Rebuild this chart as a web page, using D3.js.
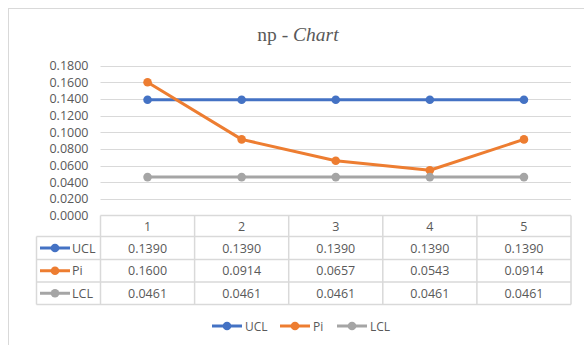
<!DOCTYPE html>
<meta charset="utf-8">
<head>
  <title>np - Chart</title>
</head>

<style>
body {
  margin: 0;
  background: #fff;
}
text {
  font-family: "Open Sans", "Noto Sans", sans-serif;
  fill: #595959;
}
</style>

<body>
  <svg width="584" height="345"></svg>

  <script src="https://cdn.jsdelivr.net/npm/d3@7"></script>

  <script>
var categories = ['1', '2', '3', '4', '5'];
var ucl = [0.1390, 0.1390, 0.1390, 0.1390, 0.1390];
var pi = [0.1600, 0.0914, 0.0657, 0.0543, 0.0914];
var lcl = [0.0461, 0.0461, 0.0461, 0.0461, 0.0461];
var yTicks = [0, 0.02, 0.04, 0.06, 0.08, 0.10, 0.12, 0.14, 0.16, 0.18];

var series = [
  { name: 'UCL', values: ucl, color: '#4472C4' },
  { name: 'Pi', values: pi, color: '#ED7D31' },
  { name: 'LCL', values: lcl, color: '#A5A5A5' }
];

var svg = d3.select('svg');
var gridColor = '#d9d9d9';

// outer chart frame
svg.append('rect')
  .attr('x', 8.5).attr('y', 8.5)
  .attr('width', 600).attr('height', 360)
  .attr('fill', 'none')
  .attr('stroke', '#d9d9d9');

// title
var title = svg.append('text')
  .attr('x', 298).attr('y', 41)
  .attr('text-anchor', 'middle')
  .style('font-family', '"Liberation Serif", "DejaVu Serif", serif')
  .style('font-size', '19.5px');
title.append('tspan').text('np - ');
title.append('tspan').style('font-style', 'italic').text('Chart');

var plotLeft = 100.5, plotRight = 571, plotTop = 65.6, plotBottom = 215.5;

var xScale = d3.scaleBand().domain(categories).range([plotLeft, plotRight]);
var yScale = d3.scaleLinear().domain([0, 0.18]).range([plotBottom, plotTop]);

// gridlines
svg.append('g')
  .selectAll('line')
  .data(yTicks.slice(1))
  .enter()
  .append('line')
  .attr('x1', plotLeft).attr('x2', plotRight)
  .attr('y1', function(d) { return Math.round(yScale(d)) + 0.5; })
  .attr('y2', function(d) { return Math.round(yScale(d)) + 0.5; })
  .attr('stroke', gridColor);

// y axis labels
var yAxis = d3.axisLeft(yScale)
  .tickValues(yTicks)
  .tickFormat(d3.format('.4f'))
  .tickSize(0)
  .tickPadding(12);
var ya = svg.append('g')
  .attr('transform', 'translate(' + plotLeft + ',0)')
  .call(yAxis);
ya.select('.domain').remove();
ya.selectAll('text')
  .style('font-size', '12.5px')
  .attr('fill', '#595959')
  .style('font-family', '"Open Sans", sans-serif');

// lines and markers
var line = d3.line()
  .x(function(d, i) { return xScale(categories[i]) + xScale.bandwidth() / 2; })
  .y(function(d) { return yScale(d); });

series.forEach(function(s) {
  svg.append('path')
    .attr('d', line(s.values))
    .attr('fill', 'none')
    .attr('stroke', s.color)
    .attr('stroke-width', 3)
    .attr('stroke-linejoin', 'round');
  svg.append('g')
    .selectAll('circle')
    .data(s.values)
    .enter()
    .append('circle')
    .attr('cx', function(d, i) { return xScale(categories[i]) + xScale.bandwidth() / 2; })
    .attr('cy', function(d) { return yScale(d); })
    .attr('r', 4.3)
    .attr('fill', s.color);
});

// data table
var rowY = [215.5, 236.5, 259.5, 282, 304.5];
var tableLeft = 36.5;
var tbl = svg.append('g');

// horizontal lines
tbl.selectAll('line.h')
  .data(rowY)
  .enter()
  .append('line')
  .attr('x1', function(d, i) { return i === 0 ? plotLeft : tableLeft; })
  .attr('x2', plotRight)
  .attr('y1', function(d) { return d; })
  .attr('y2', function(d) { return d; })
  .attr('stroke', gridColor)
  .attr('stroke-width', 1.5);

// vertical lines
var vx = categories.map(function(c) { return xScale(c); }).concat([plotRight]);
tbl.selectAll('line.v')
  .data(vx)
  .enter()
  .append('line')
  .attr('x1', function(d) { return d; })
  .attr('x2', function(d) { return d; })
  .attr('y1', rowY[0])
  .attr('y2', rowY[4])
  .attr('stroke', gridColor)
  .attr('stroke-width', 1.5);
tbl.append('line')
  .attr('x1', tableLeft).attr('x2', tableLeft)
  .attr('y1', rowY[1]).attr('y2', rowY[4])
  .attr('stroke', gridColor)
  .attr('stroke-width', 1.5);

// header
tbl.selectAll('text.head')
  .data(categories)
  .enter()
  .append('text')
  .attr('x', function(d) { return xScale(d) + xScale.bandwidth() / 2; })
  .attr('y', (rowY[0] + rowY[1]) / 2 + 4.5)
  .attr('text-anchor', 'middle')
  .style('font-size', '12.5px')
  .text(function(d) { return d; });

function legendKey(g, x, y, color) {
  g.append('line')
    .attr('x1', x).attr('x2', x + 30)
    .attr('y1', y).attr('y2', y)
    .attr('stroke', color)
    .attr('stroke-width', 3);
  g.append('circle')
    .attr('cx', x + 15).attr('cy', y)
    .attr('r', 4.3)
    .attr('fill', color);
}

series.forEach(function(s, r) {
  var cy = (rowY[r + 1] + rowY[r + 2]) / 2;
  legendKey(tbl, 40, cy, s.color);
  tbl.append('text')
    .attr('x', 72).attr('y', cy + 4.5)
    .style('font-size', '12.5px')
    .text(s.name);
  tbl.append('g')
    .selectAll('text')
    .data(s.values)
    .enter()
    .append('text')
    .attr('x', function(d, i) { return xScale(categories[i]) + xScale.bandwidth() / 2; })
    .attr('y', cy + 4.5)
    .attr('text-anchor', 'middle')
    .style('font-size', '12.5px')
    .text(function(d) { return d3.format('.4f')(d); });
});

// bottom legend
var legendX = [212, 280, 337];
var lg = svg.append('g');
series.forEach(function(s, i) {
  legendKey(lg, legendX[i], 326, s.color);
  lg.append('text')
    .attr('x', legendX[i] + 33).attr('y', 330.5)
    .style('font-size', '12px')
    .text(s.name);
});
  </script>
</body>
</html>
